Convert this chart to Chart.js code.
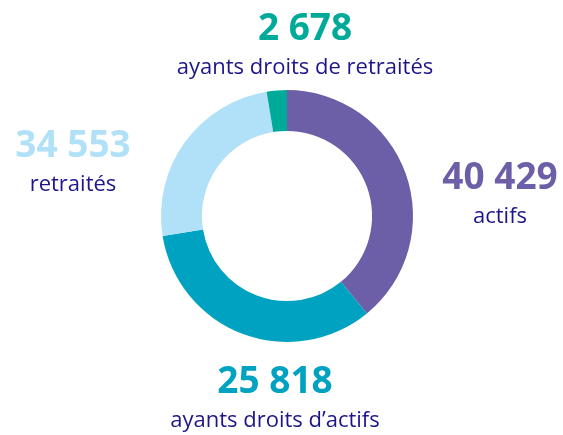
<!DOCTYPE html>
<html>
<head>
<meta charset="utf-8">
<script src="https://cdn.jsdelivr.net/npm/chart.js@4"></script>
<style>
  html, body { margin: 0; padding: 0; background: #ffffff; }
  #wrap { width: 563px; height: 435px; position: relative; }
</style>
</head>
<body>
<div id="wrap"><canvas id="c" width="563" height="435"></canvas></div>
<script>
// Categories, in drawing order (clockwise from 12 o'clock)
const categories = ['actifs', 'ayants droits d\u2019actifs', 'retraités', 'ayants droits de retraités'];
// Numbers printed beside each category
const printedValues = [40429, 25818, 34553, 2678];
// Slice sizes as drawn in the reference (the two blue slices are drawn with swapped sizes)
const sliceValues = [40429, 34553, 25818, 2678];

const colors = ['#6c5fa7', '#00a2c1', '#b1e1f8', '#00aa98'];
const textColor = '#1d168a';

// label anchor (centre x, number baseline y) for each category
const labelAnchors = [
  { x: 500, y: 189 },
  { x: 275, y: 393 },
  { x: 73,  y: 157 },
  { x: 305, y: 40 }
];

function fmt(n) {
  return String(n).replace(/\B(?=(\d{3})+(?!\d))/g, ' ');
}

const labelPlugin = {
  id: 'sideLabels',
  afterDraw(chart) {
    const ctx = chart.ctx;
    ctx.save();
    ctx.textAlign = 'center';
    ctx.textBaseline = 'alphabetic';
    categories.forEach((cat, i) => {
      const a = labelAnchors[i];
      ctx.fillStyle = colors[i];
      ctx.font = 'bold 37px "Open Sans"';
      ctx.fillText(fmt(printedValues[i]), a.x, a.y);
      ctx.fillStyle = textColor;
      ctx.font = '22px "Open Sans"';
      ctx.fillText(cat, a.x, a.y + 34);
    });
    ctx.restore();
  }
};

new Chart(document.getElementById('c'), {
  type: 'doughnut',
  data: {
    labels: categories,
    datasets: [{
      data: sliceValues,
      backgroundColor: colors,
      borderWidth: 0
    }]
  },
  options: {
    responsive: false,
    animation: false,
    cutout: '67.5%',
    layout: { padding: { top: 90, bottom: 93, left: 161, right: 150 } },
    plugins: { legend: { display: false }, tooltip: { enabled: false } }
  },
  plugins: [labelPlugin]
});
</script>
</body>
</html>
